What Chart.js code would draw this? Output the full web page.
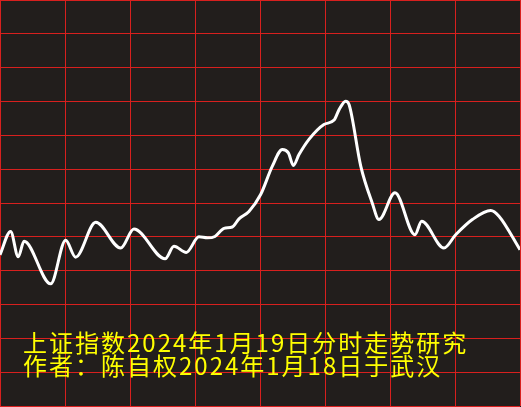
<!DOCTYPE html>
<html>
<head>
<meta charset="utf-8">
<script src="https://cdn.jsdelivr.net/npm/chart.js@4.4.1/dist/chart.umd.min.js"></script>
<style>
  html, body { margin: 0; padding: 0; background: #221e1c; }
  #wrap { width: 521px; height: 407px; }
</style>
</head>
<body>
<div id="wrap"><canvas id="minuteChart" width="521" height="407"></canvas></div>
<script>
// minute-by-minute trace of the index (minutes since open, index level)
const minutes = [0, 4.9, 8.4, 11.1, 23.4, 30.3, 34.9, 44.2, 55.7, 61.8, 76.2, 80.3, 86.0, 91.8, 95.7, 99.2,
  103.4, 107.2, 110.3, 114.9, 120.3, 125.7, 130.3, 133.1, 135.4, 138.0, 142.6, 149.5, 154.2, 156.5, 159.5,
  161.1, 166.5, 171.8, 174.9, 182.3, 191.5, 194.6, 204.9, 210.3, 218.0, 226.5, 230.3, 240];
const levels = [2824.7, 2831.6, 2824.1, 2828.7, 2816.1, 2829.0, 2824.0, 2834.3, 2826.7, 2832.3, 2823.5, 2827.2,
  2825.4, 2830.0, 2829.7, 2830.1, 2832.5, 2832.9, 2835.3, 2837.5, 2842.5, 2850.9, 2855.8, 2854.8, 2851.1,
  2854.3, 2858.8, 2863.2, 2864.5, 2867.6, 2870.1, 2869.1, 2850.9, 2840.0, 2835.1, 2843.0, 2830.6, 2834.6,
  2826.7, 2830.6, 2835.1, 2837.8, 2836.1, 2826.2];
const titleLines = ['上证指数2024年1月19日分时走势研究', '作者：陈自权2024年1月18日于武汉'];

const points = minutes.map((m, i) => ({ x: m, y: levels[i] }));

const gridRed = '#d8201e';

// dark background + caption text
const backdrop = {
  id: 'backdrop',
  beforeDraw(chart) {
    const c = chart.ctx;
    c.save();
    c.fillStyle = '#221e1c';
    c.fillRect(0, 0, chart.width, chart.height);
    c.restore();
  },
  afterDraw(chart) {
    const c = chart.ctx;
    c.save();
    c.fillStyle = '#ffff00';
    c.font = '24px "Noto Sans CJK SC"';
    c.textBaseline = 'alphabetic';
    c.letterSpacing = '2px';
    c.fillText(titleLines[0], 23, 352);
    c.fillText(titleLines[1], 23, 375);
    c.restore();
  }
};

const ctx = document.getElementById('minuteChart').getContext('2d');
new Chart(ctx, {
  type: 'line',
  data: {
    datasets: [{
      data: points,
      borderColor: '#ffffff',
      borderWidth: 3,
      pointRadius: 0,
      cubicInterpolationMode: 'monotone',
      fill: false
    }]
  },
  options: {
    responsive: false,
    animation: false,
    layout: { padding: { left: 0, top: 0, right: 1, bottom: 1 } },
    plugins: {
      legend: { display: false },
      tooltip: { enabled: false }
    },
    scales: {
      x: {
        type: 'linear',
        min: 0,
        max: 240,
        ticks: { display: false, stepSize: 30 },
        grid: { color: gridRed, lineWidth: 1, drawTicks: false },
        border: { display: false }
      },
      y: {
        min: 2780,
        max: 2900,
        ticks: { display: false, stepSize: 10 },
        grid: { color: gridRed, lineWidth: 1, drawTicks: false },
        border: { display: false }
      }
    }
  },
  plugins: [backdrop]
});
</script>
</body>
</html>
